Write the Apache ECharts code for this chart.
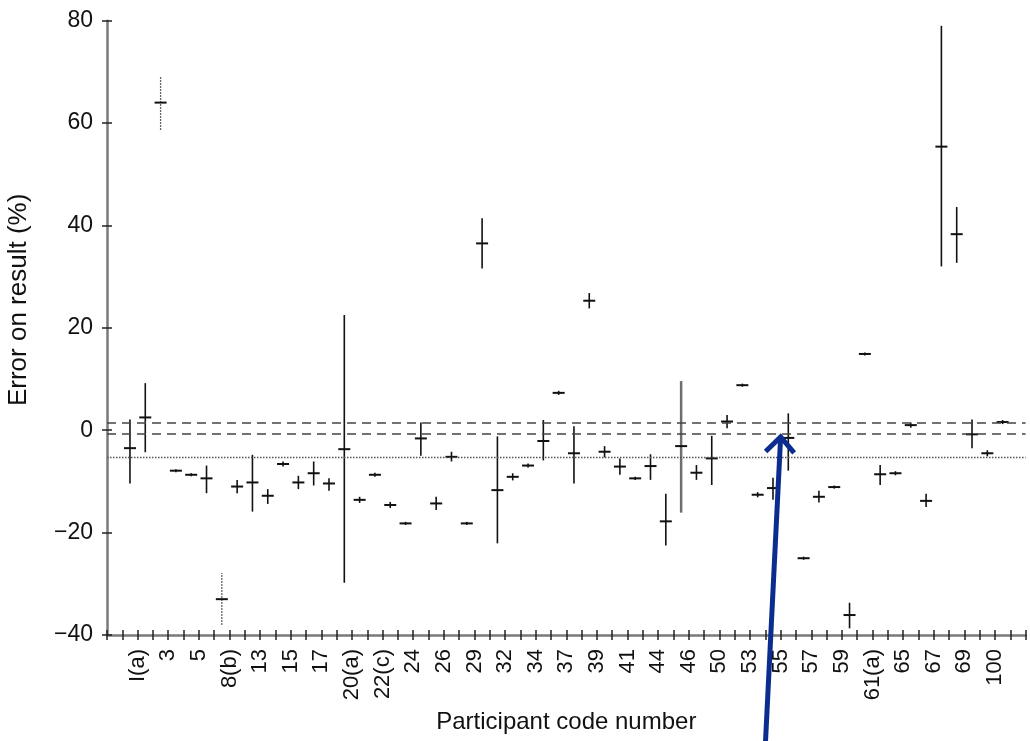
<!DOCTYPE html>
<html>
<head>
<meta charset="utf-8">
<script src="https://cdn.jsdelivr.net/npm/echarts@6/dist/echarts.min.js"></script>
<style>
  html, body { margin: 0; background: #fff; }
  #chart { width: 1030px; height: 741px; }
</style>
</head>
<body>
<div id="chart"></div>
<script>
// participant codes printed under every second tick
const tickLabels = ['I(a)', '3', '5', '8(b)', '13', '15', '17', '20(a)', '22(c)', '24', '26', '29', '32', '34', '37',
  '39', '41', '44', '46', '50', '53', '55', '57', '59', '61(a)', '65', '67', '69', '100'];

// error on result (%) per reported result, left to right
const errMean = [-3.5, 2.5, 64.0, -7.9, -8.7, -9.4, -33.0, -11.0, -10.2, -12.8, -6.6, -10.2, -8.4, -10.4, -3.7,
  -13.6, -8.7, -14.6, -18.2, -1.6, -14.3, -5.2, -18.2, 36.5, -11.7, -9.1, -6.9, -2.1, 7.3, -4.5,
  25.3, -4.2, -7.1, -9.4, -7.0, -17.8, -3.1, -8.3, -5.5, 1.7, 8.8, -12.6, -11.3, -1.5, -25.0,
  -13.0, -11.1, -36.1, 14.9, -8.6, -8.4, 1.0, -13.8, 55.4, 38.3, -0.8, -4.5, 1.6];
const errLow = [-10.4, -4.3, 58.7, -8.2, -9.0, -12.3, -38.0, -12.3, -15.9, -14.4, -7.1, -11.5, -10.8, -11.8, -29.8,
  -14.2, -9.1, -15.2, -18.5, -5.0, -15.6, -6.1, -18.5, 31.6, -22.1, -9.8, -7.3, -5.9, 6.9, -10.4,
  23.8, -5.3, -8.7, -9.7, -9.7, -22.5, -16.1, -9.7, -10.7, 0.4, 8.5, -13.1, -13.6, -7.9, -25.3,
  -14.1, -11.4, -38.7, 14.6, -10.7, -8.8, 0.5, -15.0, 32.0, 32.7, -3.5, -5.1, 1.2];
const errHigh = [2.1, 9.2, 69.1, -7.6, -8.4, -6.9, -27.9, -9.7, -4.8, -11.5, -6.1, -8.9, -6.1, -9.4, 22.5,
  -13.0, -8.3, -14.0, -17.9, 1.5, -13.0, -4.2, -17.9, 41.4, -1.2, -8.4, -6.5, 2.0, 7.7, 0.8,
  26.8, -3.1, -5.5, -9.1, -4.7, -12.4, 9.6, -6.8, -1.1, 3.0, 9.1, -12.1, -9.3, 3.3, -24.7,
  -11.8, -10.8, -33.7, 15.2, -6.8, -8.0, 1.5, -12.4, 79.0, 43.6, 2.1, -3.9, 2.0];

// reference lines
const bandLines = [1.5, -0.7];
const refLine = -5.2;

// annotation arrow (data units)
const arrowFrom = [42.0, -61.5];
const arrowTo = [43.0, -1.3];

// bars drawn differently
const dottedBars = [2, 6];
const grayBars = [36];

const FONT = '"Liberation Sans", Arial, sans-serif';
const nTicks = tickLabels.length * 2 + 1;

const chart = echarts.init(document.getElementById('chart'));

const axisX = {
  type: 'value',
  min: -1,
  max: nTicks,
  interval: 1,
  splitLine: { show: false },
};
const axisY = {
  type: 'value',
  min: -40,
  max: 80,
  interval: 20,
  splitLine: { show: false },
};

const option = {
  animation: false,
  backgroundColor: '#fff',
  grid: { left: 107, right: 4.4, top: 20.7, bottom: 106, outerBoundsMode: 'none' },
  xAxis: [
    {
      ...axisX,
      position: 'bottom',
      name: 'Participant code number',
      nameLocation: 'middle',
      nameGap: 75,
      nameTextStyle: { fontSize: 24, color: '#111', fontFamily: FONT },
      axisLine: { show: true, onZero: false, lineStyle: { color: '#7a7a7a', width: 2.5 } },
      axisTick: { show: true, length: 5, lineStyle: { color: '#222', width: 1.5 } },
      axisLabel: {
        rotate: 90,
        margin: 14,
        fontSize: 22,
        color: '#111',
        fontFamily: FONT,
        formatter: (v) => (v >= 1 && v % 2 === 1 ? tickLabels[(v - 1) / 2] || '' : ''),
      },
    },
    {
      ...axisX,
      position: 'bottom',
      axisLine: { show: false, onZero: false },
      axisTick: { show: true, inside: true, length: 5, lineStyle: { color: '#222', width: 1.5 } },
      axisLabel: { show: false },
    },
  ],
  yAxis: [
    {
      ...axisY,
      position: 'left',
      name: 'Error on result (%)',
      nameLocation: 'middle',
      nameGap: 75,
      nameTextStyle: { fontSize: 26, color: '#111', fontFamily: FONT, padding: [0, 0, 0, 56] },
      axisLine: { show: true, onZero: false, lineStyle: { color: '#7a7a7a', width: 2.5 } },
      axisTick: { show: true, length: 5, lineStyle: { color: '#222', width: 1.5 } },
      axisLabel: {
        margin: 14,
        fontSize: 23,
        color: '#111',
        fontFamily: FONT,
        formatter: (v) => (v < 0 ? '\u2212' + -v : String(v)),
      },
    },
    {
      ...axisY,
      position: 'left',
      axisLine: { show: false, onZero: false },
      axisTick: { show: true, inside: true, length: 5, lineStyle: { color: '#222', width: 1.5 } },
      axisLabel: { show: false },
    },
  ],
  series: [
    {
      name: 'reference',
      type: 'line',
      data: [],
      markLine: {
        silent: true,
        symbol: ['none', 'none'],
        label: { show: false },
        data: [
          ...bandLines.map((v) => ({ yAxis: v, lineStyle: { type: [9, 6], color: '#444', width: 1.6 } })),
          { yAxis: refLine, lineStyle: { type: [1.5, 1.5], color: '#555', width: 1.3 } },
        ],
      },
    },
    {
      name: 'error',
      type: 'custom',
      data: errMean.map((m, i) => [i + 0.5, errLow[i], errHigh[i], m]),
      renderItem: (params, api) => {
        const i = params.dataIndex;
        const x = api.value(0);
        const lo = api.coord([x, api.value(1)]);
        const hi = api.coord([x, api.value(2)]);
        const mid = api.coord([x, api.value(3)]);
        const dotted = dottedBars.includes(i);
        const gray = grayBars.includes(i);
        return {
          type: 'group',
          children: [
            {
              type: 'line',
              shape: { x1: lo[0], y1: lo[1], x2: hi[0], y2: hi[1] },
              style: {
                stroke: gray ? '#6e6e6e' : dotted ? '#333' : '#111',
                lineWidth: gray ? 2.5 : dotted ? 1.3 : 1.6,
                lineDash: dotted ? [1.5, 1.5] : null,
              },
            },
            {
              type: 'line',
              shape: { x1: mid[0] - 6, y1: mid[1], x2: mid[0] + 6, y2: mid[1] },
              style: { stroke: '#111', lineWidth: 2 },
            },
          ],
        };
      },
    },
  ],
};

chart.setOption(option);

// arrow annotation
const p0 = chart.convertToPixel({ gridIndex: 0 }, arrowFrom);
const p1 = chart.convertToPixel({ gridIndex: 0 }, arrowTo);
const ang = Math.atan2(p0[1] - p1[1], p0[0] - p1[0]);
const head = 21;
const spread = Math.PI / 4.2;
const wing = (s) => [p1[0] + head * Math.cos(ang + s), p1[1] + head * Math.sin(ang + s)];
chart.setOption({
  graphic: [
    {
      type: 'line',
      shape: { x1: p0[0], y1: p0[1], x2: p1[0], y2: p1[1] },
      style: { stroke: '#0b2d8f', lineWidth: 5 },
      z: 100,
    },
    {
      type: 'polyline',
      shape: { points: [wing(spread), p1, wing(-spread)] },
      style: { stroke: '#0b2d8f', lineWidth: 5, fill: null, lineJoin: 'miter' },
      z: 100,
    },
  ],
});
</script>
</body>
</html>
